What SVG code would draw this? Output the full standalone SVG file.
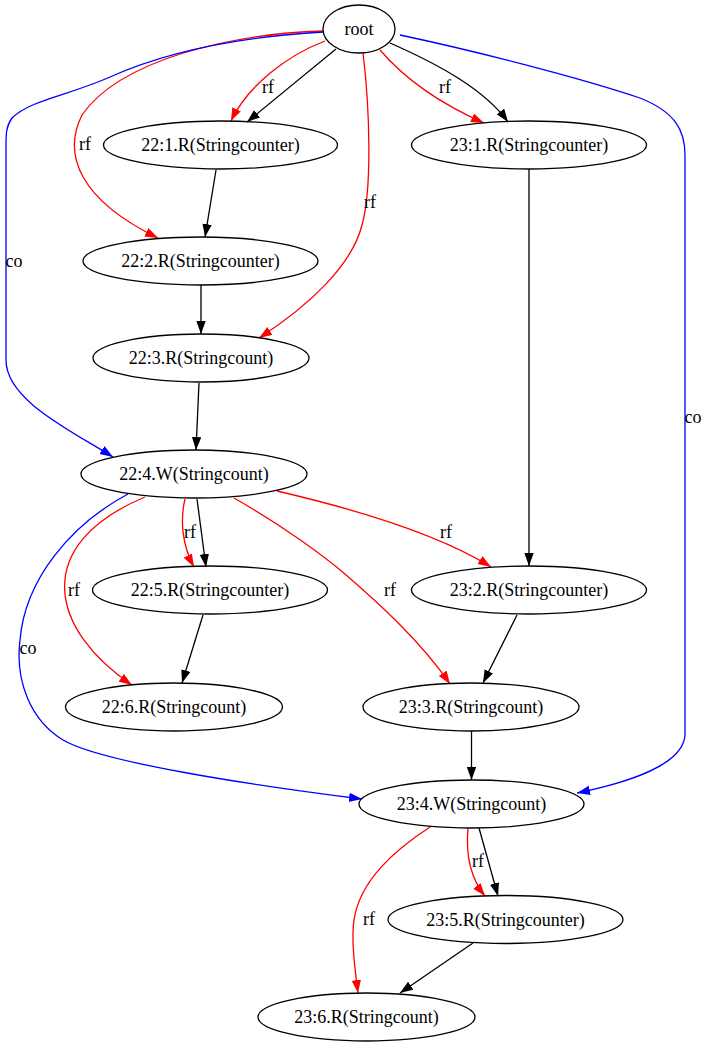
<svg xmlns="http://www.w3.org/2000/svg" width="708" height="1047" viewBox="0 0 708 1047">
<style>
.n ellipse{fill:none;stroke:#000;stroke-width:1.3}
text{font-family:"Liberation Serif","Times New Roman",serif;font-size:18px;fill:#000;text-anchor:middle}
.e path{fill:none;stroke-width:1.3}
.k{stroke:#000;marker-end:url(#ak)}
.r{stroke:#f00;marker-end:url(#ar)}
.b{stroke:#00f;marker-end:url(#ab)}
</style>
<defs>
<marker id="ak" markerUnits="userSpaceOnUse" markerWidth="14" markerHeight="10" refX="13" refY="4.7" orient="auto"><path d="M0,0 L13,4.7 L0,9.4 z" fill="#000"/></marker>
<marker id="ar" markerUnits="userSpaceOnUse" markerWidth="14" markerHeight="10" refX="13" refY="4.7" orient="auto"><path d="M0,0 L13,4.7 L0,9.4 z" fill="#f00"/></marker>
<marker id="ab" markerUnits="userSpaceOnUse" markerWidth="14" markerHeight="10" refX="13" refY="4.7" orient="auto"><path d="M0,0 L13,4.7 L0,9.4 z" fill="#00f"/></marker>
</defs>
<rect width="708" height="1047" fill="#fff"/>
<g id="edges" class="e">
<path class="k" d="M336,49 L247,122"/>
<path class="r" d="M325,41 C288,55 248,85 231,121"/>
<path class="k" d="M390,43 C440,65 485,90 508,122"/>
<path class="r" d="M380,50 C410,85 450,108 484,123"/>
<path class="r" d="M323,31 C230,34 120,60 82,115 C62,155 80,200 158,238"/>
<path class="r" d="M363,53 C370,110 372,190 362,225 C352,265 310,305 259,338"/>
<path class="b" d="M323,32 C240,37 170,50 110,77 C70,95 30,100 12,118 C6,126 6,135 6,145 L6,360 C6,400 70,430 113,457"/>
<path class="b" d="M400,35 C480,52 580,78 640,98 C675,112 685,130 685,155 L685,735 C683,765 630,782 577,793"/>
<path class="k" d="M216,170 L205,237"/>
<path class="k" d="M201,285 L201,334"/>
<path class="k" d="M199,383 L196,450"/>
<path class="k" d="M529,169 L529,566"/>
<path class="r" d="M185,499 C180,520 182,545 194,567"/>
<path class="k" d="M197,499 L206,567"/>
<path class="r" d="M145,497 C30,545 50,630 132,685"/>
<path class="r" d="M234,498 C285,527 325,557 345,574 C375,600 420,640 450,684"/>
<path class="r" d="M277,491 C350,508 435,532 491,567"/>
<path class="b" d="M128,494 C70,525 25,580 20,640 C15,680 30,720 63,740 C100,762 250,785 362,799"/>
<path class="k" d="M203,615 L182,683"/>
<path class="k" d="M517,615 L483,683"/>
<path class="k" d="M471.5,731 L471.5,780"/>
<path class="r" d="M468,828 C466,850 468,875 485,896"/>
<path class="k" d="M479,828 L498,896"/>
<path class="r" d="M430,827 C395,850 360,880 354,920 C351,940 355,970 358,993"/>
<path class="k" d="M473,943 L400,993"/>
<text x="268" y="93">rf</text>
<text x="445" y="93">rf</text>
<text x="85" y="150">rf</text>
<text x="370" y="208">rf</text>
<text x="14" y="267">co</text>
<text x="693" y="423">co</text>
<text x="190" y="538">rf</text>
<text x="446" y="538">rf</text>
<text x="74" y="596">rf</text>
<text x="390" y="596">rf</text>
<text x="28" y="654">co</text>
<text x="478" y="867">rf</text>
<text x="369" y="925">rf</text>
</g>
<g id="root" class="n"><ellipse cx="359" cy="29" rx="36" ry="24"/><text x="359" y="35">root</text></g>
<g id="n22_1" class="n"><ellipse cx="220.5" cy="145" rx="117" ry="24"/><text x="220.5" y="151">22:1.R(Stringcounter)</text></g>
<g id="n23_1" class="n"><ellipse cx="529" cy="145" rx="117.5" ry="24"/><text x="529" y="151">23:1.R(Stringcounter)</text></g>
<g id="n22_2" class="n"><ellipse cx="200.5" cy="261" rx="117.5" ry="24"/><text x="200.5" y="267">22:2.R(Stringcounter)</text></g>
<g id="n22_3" class="n"><ellipse cx="201" cy="358" rx="108" ry="24"/><text x="201" y="364">22:3.R(Stringcount)</text></g>
<g id="n22_4" class="n"><ellipse cx="194" cy="474" rx="113" ry="24"/><text x="194" y="480">22:4.W(Stringcount)</text></g>
<g id="n22_5" class="n"><ellipse cx="210" cy="590" rx="117.5" ry="24"/><text x="210" y="596">22:5.R(Stringcounter)</text></g>
<g id="n23_2" class="n"><ellipse cx="529" cy="590" rx="117.5" ry="24"/><text x="529" y="596">23:2.R(Stringcounter)</text></g>
<g id="n22_6" class="n"><ellipse cx="174" cy="707" rx="108.5" ry="24"/><text x="174" y="713">22:6.R(Stringcount)</text></g>
<g id="n23_3" class="n"><ellipse cx="471" cy="707" rx="108" ry="24"/><text x="471" y="713">23:3.R(Stringcount)</text></g>
<g id="n23_4" class="n"><ellipse cx="471.5" cy="804" rx="112.5" ry="24"/><text x="471.5" y="810">23:4.W(Stringcount)</text></g>
<g id="n23_5" class="n"><ellipse cx="505.5" cy="919.5" rx="117.5" ry="24"/><text x="505.5" y="925.5">23:5.R(Stringcounter)</text></g>
<g id="n23_6" class="n"><ellipse cx="366.5" cy="1017" rx="108.5" ry="24"/><text x="366.5" y="1023">23:6.R(Stringcount)</text></g>
</svg>
